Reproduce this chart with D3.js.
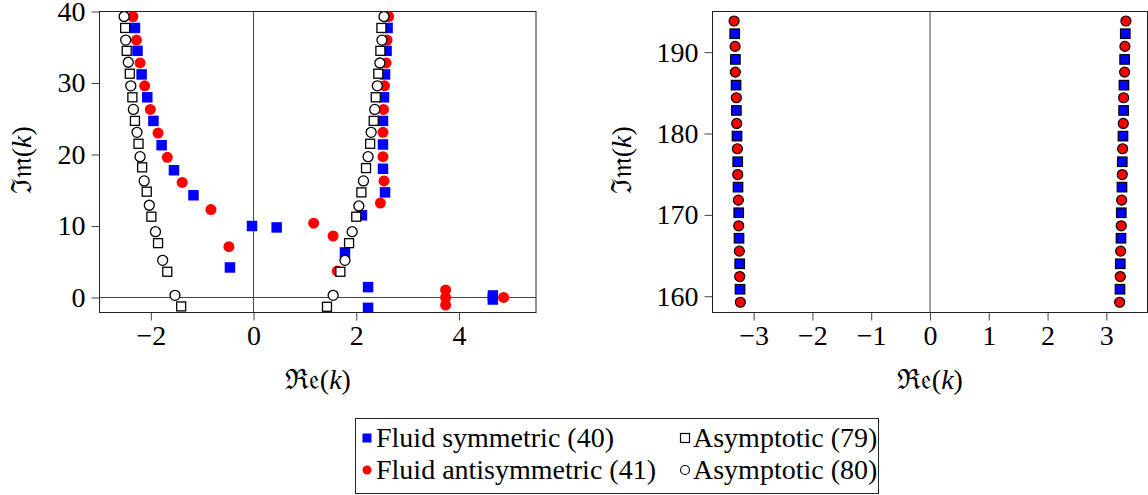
<!DOCTYPE html>
<html><head><meta charset="utf-8">
<script src="https://cdn.jsdelivr.net/npm/d3@7"></script>
<style>
body{margin:0;background:#fff;}
</style></head>
<body><svg id="c" width="1148" height="495"></svg>
<script>
// ---- Left panel data [Re, Im] ----
const fluidSymLeft = [[-2.31,37.7],[-2.26,34.5],[-2.18,31.2],[-2.07,28.0],[-1.95,24.7],[-1.79,21.3],[-1.55,17.8],[-1.17,14.3],[-0.03,10.0],[0.45,9.8],[-0.46,4.2],
  [2.61,37.7],[2.59,34.5],[2.56,31.2],[2.54,28.0],[2.52,24.7],[2.52,21.4],[2.52,18.0],[2.56,14.7],[2.11,11.5],[1.78,6.3],[2.23,1.45],[2.23,-1.45],[4.66,0.28],[4.66,-0.28]];
const fluidAntiLeft = [[-2.35,39.3],[-2.28,36.0],[-2.21,32.8],[-2.12,29.6],[-2.01,26.3],[-1.86,23.0],[-1.68,19.6],[-1.39,16.1],[-0.83,12.3],[-0.48,7.1],
  [2.63,39.3],[2.60,36.0],[2.58,32.8],[2.55,29.6],[2.53,26.3],[2.52,23.1],[2.52,19.7],[2.54,16.3],[2.47,13.2],[1.17,10.4],[1.55,8.6],[1.63,3.7],[3.74,1.05],[3.74,0],[3.74,-1.05],[4.87,0]];
const asym79Left = [[-2.50,37.7],[-2.47,34.5],[-2.41,31.3],[-2.36,28.0],[-2.31,24.7],[-2.24,21.5],[-2.17,18.2],[-2.08,14.8],[-1.99,11.3],[-1.86,7.6],[-1.68,3.6],[-1.41,-1.25],
  [2.49,37.7],[2.47,34.5],[2.43,31.3],[2.38,28.0],[2.34,24.7],[2.27,21.5],[2.19,18.1],[2.10,14.7],[2.00,11.3],[1.86,7.6],[1.69,3.6],[1.43,-1.3]];
const asym80Left = [[-2.52,39.3],[-2.49,36.0],[-2.44,32.9],[-2.39,29.6],[-2.34,26.3],[-2.27,23.1],[-2.21,19.7],[-2.13,16.3],[-2.03,12.9],[-1.91,9.2],[-1.77,5.2],[-1.53,0.3],
  [2.54,39.3],[2.50,36.0],[2.46,32.8],[2.41,29.6],[2.36,26.3],[2.29,23.1],[2.23,19.7],[2.14,16.3],[2.05,12.8],[1.92,9.2],[1.78,5.2],[1.55,0.3]];

// ---- Right panel data [Re, Im] ----
const fluidSymRight = [[-3.322,192.27],[-3.311,189.11],[-3.299,185.95],[-3.294,182.84],[-3.283,179.68],[-3.271,176.53],[-3.266,173.41],[-3.254,170.26],[-3.249,167.13],[-3.237,163.99],[-3.232,160.86],
  [3.322,192.27],[3.311,189.11],[3.299,185.95],[3.294,182.84],[3.283,179.68],[3.271,176.53],[3.266,173.41],[3.254,170.26],[3.249,167.13],[3.237,163.99],[3.232,160.86]];
const fluidAntiRight = [[-3.333,193.83],[-3.316,190.71],[-3.311,187.55],[-3.294,184.40],[-3.288,181.24],[-3.277,178.13],[-3.271,174.96],[-3.260,171.81],[-3.254,168.66],[-3.243,165.54],[-3.237,162.42],[-3.226,159.26],
  [3.333,193.83],[3.316,190.71],[3.311,187.55],[3.294,184.40],[3.288,181.24],[3.277,178.13],[3.271,174.96],[3.260,171.81],[3.254,168.66],[3.243,165.54],[3.237,162.42],[3.226,159.26]];

// ---- Ticks ----
const leftXTicks = [-2,0,2,4];
const leftYTicks = [0,10,20,30,40];
const rightXTicks = [-3,-2,-1,0,1,2,3];
const rightYTicks = [160,170,180,190];
const legendLabels = ["Fluid symmetric (40)","Fluid antisymmetric (41)","Asymptotic (79)","Asymptotic (80)"];

const svg = d3.select("#c");
const FS = "28px";
const FF = '"Liberation Serif", "Times New Roman", Tinos, "Noto Serif", "DejaVu Serif", serif';

function panel(cfg){
  const g = svg.append("g");
  const x = d3.scaleLinear().domain(cfg.xd).range([cfg.x0,cfg.x1]);
  const y = d3.scaleLinear().domain(cfg.yd).range([cfg.y1,cfg.y0]);
  const clipId = "clip"+cfg.id;
  svg.append("clipPath").attr("id",clipId).append("rect")
    .attr("x",cfg.x0).attr("y",cfg.y0).attr("width",cfg.x1-cfg.x0).attr("height",cfg.y1-cfg.y0);
  g.append("line").attr("x1",x(0)).attr("x2",x(0)).attr("y1",cfg.y0).attr("y2",cfg.y1).attr("stroke","#444").attr("stroke-width",1);
  if(cfg.hzero){
    g.append("line").attr("x1",cfg.x0).attr("x2",cfg.x1).attr("y1",y(0)).attr("y2",y(0)).attr("stroke","#444").attr("stroke-width",1);
  }
  const ax = g.append("g").attr("transform",`translate(0,${cfg.y1})`)
    .call(d3.axisBottom(x).tickValues(cfg.xt).tickSize(8).tickPadding(5).tickFormat(d3.format("d")));
  const ay = g.append("g").attr("transform",`translate(${cfg.x0},0)`)
    .call(d3.axisLeft(y).tickValues(cfg.yt).tickSize(8).tickPadding(6).tickFormat(d3.format("d")));
  [ax,ay].forEach(a=>{
    a.attr("font-family",null).attr("font-size",null);
    a.select(".domain").remove();
    a.selectAll(".tick line").attr("stroke","#444");
    a.selectAll("text").style("font-family",FF).style("font-size",FS).attr("fill","#000");
  });
  g.append("rect").attr("x",cfg.x0).attr("y",cfg.y0).attr("width",cfg.x1-cfg.x0).attr("height",cfg.y1-cfg.y0)
    .attr("fill","none").attr("stroke","#222").attr("stroke-width",1);
  const m = g.append("g").attr("clip-path",`url(#${clipId})`);
  return {g,x,y,m};
}

function squares(p, data, s, fill, stroke, sw){
  p.m.selectAll(null).data(data).enter().append("rect")
    .attr("x",d=>p.x(d[0])-s/2).attr("y",d=>p.y(d[1])-s/2).attr("width",s).attr("height",s)
    .attr("fill",fill).attr("stroke",stroke).attr("stroke-width",sw);
}
function circles(p, data, r, fill, stroke, sw){
  p.m.selectAll(null).data(data).enter().append("circle")
    .attr("cx",d=>p.x(d[0])).attr("cy",d=>p.y(d[1])).attr("r",r)
    .attr("fill",fill).attr("stroke",stroke).attr("stroke-width",sw);
}

const L = panel({id:"L",xd:[-3,5.5],yd:[-2.1,40],x0:99.5,x1:536,y0:11.5,y1:312.5,xt:leftXTicks,yt:leftYTicks,hzero:true});
squares(L, fluidSymLeft, 10.5, "#0000ff", "none", 0);
circles(L, fluidAntiLeft, 5.5, "#ff0000", "none", 0);
squares(L, asym79Left, 9, "#fff", "#000", 1.3);
circles(L, asym80Left, 5, "#fff", "#000", 1.3);

const R = panel({id:"R",xd:[-3.7,3.7],yd:[158,195],x0:712.5,x1:1147.5,y0:11.5,y1:312.5,xt:rightXTicks,yt:rightYTicks,hzero:false});
squares(R, fluidSymRight, 9.5, "#0000ff", "#000", 1.2);
circles(R, fluidAntiRight, 5, "#ff0000", "#000", 1.2);

function label(xp, yp, main, rot){
  const t = svg.append("text").attr("text-anchor","middle").style("font-family",FF).style("font-size",FS);
  if(rot) t.attr("transform",`translate(${xp},${yp}) rotate(-90)`);
  else t.attr("x",xp).attr("y",yp);
  t.append("tspan").text(main);
  t.append("tspan").text("(");
  t.append("tspan").style("font-style","italic").text("k");
  t.append("tspan").text(")");
}
label(31,160,"\u2111\u{1D52A}",true);
label(318,389,"\u211C\u{1D522}",false);
label(631,160,"\u2111\u{1D52A}",true);
label(930,389,"\u211C\u{1D522}",false);

// legend
const lg = svg.append("g");
lg.append("rect").attr("x",355.5).attr("y",418.5).attr("width",523).attr("height",75).attr("fill","#fff").attr("stroke","#222").attr("stroke-width",1);
const rows = [
  {x:367,y:438,type:"sq",fill:"#0000ff",stroke:"none",label:legendLabels[0],tx:376},
  {x:367,y:470,type:"ci",fill:"#ff0000",stroke:"none",label:legendLabels[1],tx:376},
  {x:685,y:438,type:"sq",fill:"#fff",stroke:"#000",label:legendLabels[2],tx:693},
  {x:685,y:470,type:"ci",fill:"#fff",stroke:"#000",label:legendLabels[3],tx:693}
];
rows.forEach(r=>{
  if(r.type==="sq") lg.append("rect").attr("x",r.x-4.5).attr("y",r.y-4.5).attr("width",9).attr("height",9).attr("fill",r.fill).attr("stroke",r.stroke).attr("stroke-width",1.2);
  else lg.append("circle").attr("cx",r.x).attr("cy",r.y).attr("r",4.5).attr("fill",r.fill).attr("stroke",r.stroke).attr("stroke-width",1.2);
  lg.append("text").attr("x",r.tx).attr("y",r.y+9).style("font-family",FF).style("font-size",FS).text(r.label);
});
</script></body></html>
